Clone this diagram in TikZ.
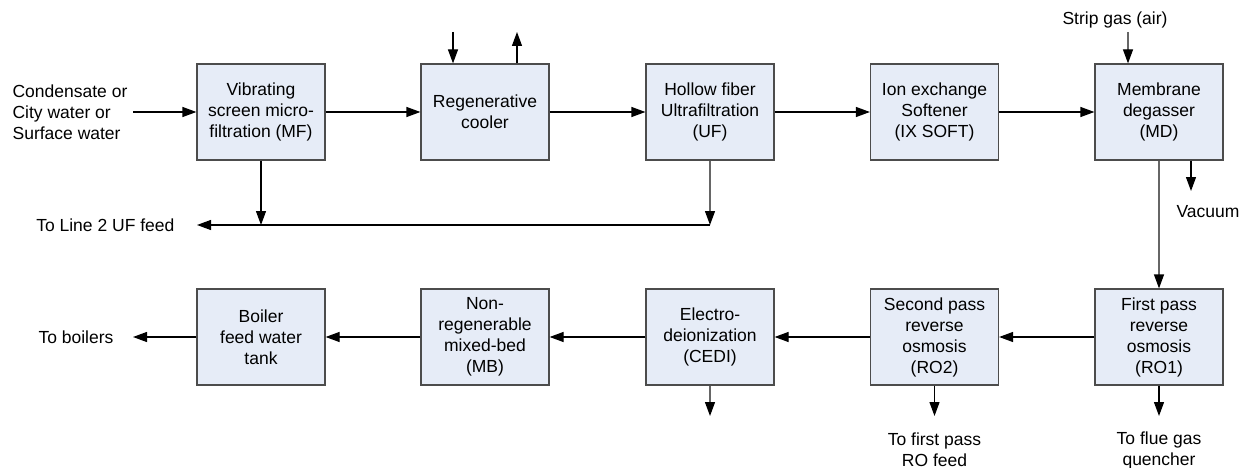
\documentclass[tikz,border=0pt]{standalone}
\usepackage{fontspec}
\setmainfont{Liberation Sans}
\usetikzlibrary{arrows.meta,positioning}
\definecolor{boxblue}{RGB}{230,236,247}
\newcommand{\unitfont}{\fontsize{17.5}{21}\selectfont}

\begin{document}
\begin{tikzpicture}[
  x=1pt, y=-1pt, line width=1.2pt,
  unit/.style={draw=black!70,fill=boxblue,minimum width=128pt,minimum height=96pt,align=center,inner sep=0pt,font=\unitfont},
  lbl/.style={align=center,inner sep=0pt,font=\unitfont},
  flow/.style={-{Triangle[length=14pt,width=10pt,color=black]}},
  gflow/.style={flow,draw=black!60}
]
  \useasboundingbox (0,0) rectangle (1247,468);
  \node[unit] (mf) at (261,112) {Vibrating\\screen micro-\\filtration (MF)};
  \node[unit] (cool) at (485,112) {Regenerative\\cooler};
  \node[unit] (uf) at (710,112) {Hollow fiber\\Ultrafiltration\\(UF)};
  \node[unit] (ix) at (934.5,112) {Ion exchange\\Softener\\(IX SOFT)};
  \node[unit] (md) at (1159,112) {Membrane\\degasser\\(MD)};
  \node[unit] (ro1) at (1159,337) {First pass\\reverse\\osmosis\\(RO1)};
  \node[unit] (ro2) at (934.5,337) {Second pass\\reverse\\osmosis\\(RO2)};
  \node[unit] (cedi) at (710,337) {Electro-\\deionization\\(CEDI)};
  \node[unit] (mb) at (485,337) {Non-\\regenerable\\mixed-bed\\(MB)};
  \node[unit] (bfw) at (261,337) {Boiler\\feed water\\tank};
  \node[lbl,align=left,anchor=west] (src) at (12,112) {Condensate or\\City water or\\Surface water};
  \node[lbl,anchor=east] (line2) at (175,225) {To Line 2 UF feed};
  \node[lbl,anchor=east] (boil) at (114,337) {To boilers};
  \node[lbl] (strip) at (1115,20) {Strip gas (air)};
  \node[lbl] (vac) at (1208,212) {Vacuum};
  \node[lbl] (rofeed) at (934.5,450) {To first pass\\RO feed};
  \node[lbl] (flue) at (1159,450) {To flue gas\\quencher};
  \coordinate (cin) at (453,32);
  \coordinate (cout) at (517,32);
  \coordinate (sg) at (1128,32);
  \coordinate (vt) at (1191,191);
  \coordinate (j1) at (261,225);
  \coordinate (j2) at (710,225);
  \coordinate (ct) at (710,416);
  \coordinate (rt2) at (934.5,416);
  \coordinate (rt1) at (1159,416);
  \draw[flow] ([xshift=5pt]src.east) -- (mf);
  \draw[flow] (mf) -- (cool);
  \draw[flow] (cool) -- (uf);
  \draw[flow] (uf) -- (ix);
  \draw[flow] (ix) -- (md);
  \draw[flow] (cin) -- (cin |- cool.north);
  \draw[flow] (cout |- cool.north) -- (cout);
  \draw[gflow] (sg) -- (sg |- md.north);
  \draw[flow] (vt |- md.south) -- (vt);
  \draw[flow] (mf) -- (j1);
  \draw[gflow] (uf) -- (j2);
  \draw[flow] (j2) -- ([xshift=22pt]line2.east);
  \draw[gflow] (md) -- (ro1);
  \draw[flow] (ro1) -- (ro2);
  \draw[flow] (ro2) -- (cedi);
  \draw[flow] (cedi) -- (mb);
  \draw[flow] (mb) -- (bfw);
  \draw[flow] (bfw) -- ([xshift=19pt]boil.east);
  \draw[gflow] (cedi) -- (ct);
  \draw[flow] (ro2) -- (rt2);
  \draw[flow] (ro1) -- (rt1);
\end{tikzpicture}
\end{document}
